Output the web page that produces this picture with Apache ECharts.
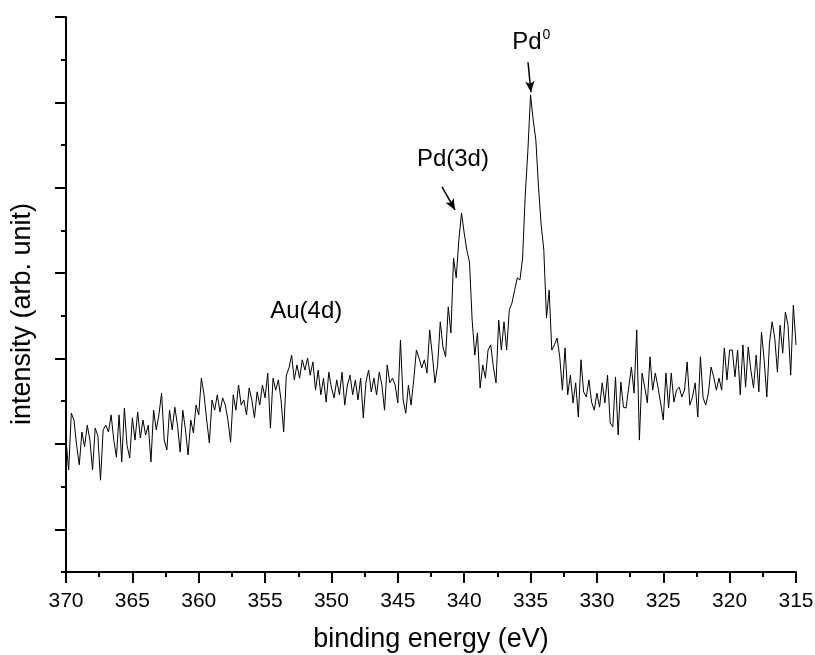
<!DOCTYPE html>
<html>
<head>
<meta charset="utf-8">
<script src="https://cdn.jsdelivr.net/npm/echarts@6/dist/echarts.min.js"></script>
<style>
html,body{margin:0;padding:0;background:#fff;}
#chart{width:815px;height:655px;}
</style>
</head>
<body>
<div id="chart"></div>
<script>
// Binding energy sampling (eV): first point and spacing
const energyStart = 370;
const energyStep = -0.2;
// Intensity (arb. unit), 370 eV -> 315 eV
const intensity = [
309,239,372,356,297,251,328,293,344,309,239,337,319,215,333,344,328,368,309,269,
368,258,384,297,267,361,309,375,314,356,321,344,258,379,333,368,419,309,286,379,
333,386,344,281,379,333,274,356,326,391,368,454,415,356,302,403,379,415,375,408,
391,356,304,415,379,438,391,403,368,431,403,361,422,391,438,408,466,337,454,426,
450,403,328,461,478,508,450,485,454,497,473,501,461,492,426,473,415,454,398,468,
431,408,450,415,468,391,438,461,415,450,403,454,361,445,473,422,454,415,468,438,
379,485,443,454,438,396,543,403,372,438,391,450,520,501,478,497,466,567,508,443,
485,586,527,504,621,560,735,689,778,841,794,754,726,590,508,560,431,485,454,520,
532,480,443,590,520,586,520,614,630,660,689,684,735,883,988,1117,1059,1012,902,813,
754,595,660,520,532,548,504,426,525,415,461,396,443,363,497,422,410,450,398,379,
419,386,443,396,461,349,340,457,321,445,386,384,433,480,419,567,309,466,433,396,
504,426,466,433,396,356,466,384,466,398,426,433,410,426,492,391,410,443,363,504,
408,391,419,480,457,426,454,426,525,450,520,520,457,520,415,532,433,527,473,431,
508,422,562,497,410,536,586,548,468,578,513,609,578,461,625,532
];
// Axis settings
const xMin = 315, xMax = 370, xInterval = 5;
const yMin = 0, yMax = 1300, yMinorStep = 100;
const yMajorTicks = [100, 300, 500, 700, 900, 1100, 1300];
// Annotations (data coordinates)
const labelTexts = ['Au(4d)', 'Pd(3d)', 'Pd0'];
const labelEnergy = [351.9, 340.85, 334.95];
const labelIntensity = [611, 967, 1241];
const arrowFrom = [[341.67, 902], [335.19, 1194]];
const arrowTo = [[340.69, 848], [334.97, 1124]];

const seriesData = intensity.map((v, i) => [+(energyStart + energyStep * i).toFixed(2), v]);
const FONT = "'Liberation Sans', Arial, sans-serif";

const chart = echarts.init(document.getElementById('chart'), null, {renderer: 'canvas'});
chart.setOption({
  animation: false,
  backgroundColor: '#ffffff',
  grid: {left: 66, right: 19, top: 17, bottom: 83, containLabel: false, outerBoundsMode: 'none'},
  xAxis: {
    type: 'value', inverse: true, min: xMin, max: xMax, interval: xInterval,
    name: 'binding energy (eV)', nameLocation: 'middle', nameGap: 54,
    nameTextStyle: {fontFamily: FONT, fontSize: 27, color: '#000'},
    axisLine: {show: true, onZero: false, lineStyle: {color: '#000', width: 2}},
    axisTick: {show: true, inside: false, length: 11, lineStyle: {color: '#000', width: 2}},
    minorTick: {show: true, splitNumber: 2, length: 5, lineStyle: {color: '#000', width: 2}},
    axisLabel: {fontFamily: FONT, fontSize: 21, color: '#000', margin: 19},
    splitLine: {show: false}
  },
  yAxis: [{
    type: 'value', min: yMin, max: yMax, interval: yMinorStep, position: 'left',
    axisLine: {show: true, onZero: false, lineStyle: {color: '#000', width: 2}},
    axisTick: {show: true, inside: false, length: 5, lineStyle: {color: '#000', width: 2}},
    axisLabel: {show: false},
    splitLine: {show: false}
  }, {
    type: 'value', min: yMin, max: yMax, interval: yMinorStep, position: 'left', offset: 0,
    axisLine: {show: false},
    axisTick: {show: true, inside: false, length: 11, customValues: yMajorTicks, lineStyle: {color: '#000', width: 2}},
    axisLabel: {show: false},
    splitLine: {show: false}
  }],
  graphic: [{
    type: 'text', x: 23, y: 314, rotation: Math.PI / 2,
    style: {text: 'intensity (arb. unit)', font: "27px 'Liberation Sans', Arial, sans-serif", fill: '#000', align: 'center', verticalAlign: 'middle'}
  }],
  series: [{
    type: 'line', data: seriesData, showSymbol: false, symbol: 'none',
    lineStyle: {color: '#000', width: 1}, silent: true,
    markLine: {
      silent: true, symbol: ['none', 'arrow'], symbolSize: [7, 11],
      lineStyle: {color: '#000', width: 1.5, type: 'solid', opacity: 1},
      label: {show: false},
      data: arrowFrom.map((p, i) => [{coord: p}, {coord: arrowTo[i]}])
    }
  }, {
    type: 'scatter', symbolSize: 0, silent: true,
    itemStyle: {opacity: 1},
    data: labelTexts.map((t, i) => ({value: [labelEnergy[i], labelIntensity[i]], name: t})),
    label: {
      show: true, position: 'inside', color: '#000', opacity: 1, fontFamily: FONT, fontSize: 24,
      formatter: p => p.name === 'Pd0' ? '{a|Pd}{b|0}' : p.name,
      rich: {
        a: {fontFamily: FONT, fontSize: 24, color: '#000'},
        b: {fontFamily: FONT, fontSize: 14, color: '#000', padding: [0, 0, 14, 1]}
      }
    }
  }]
});
</script>
</body>
</html>
